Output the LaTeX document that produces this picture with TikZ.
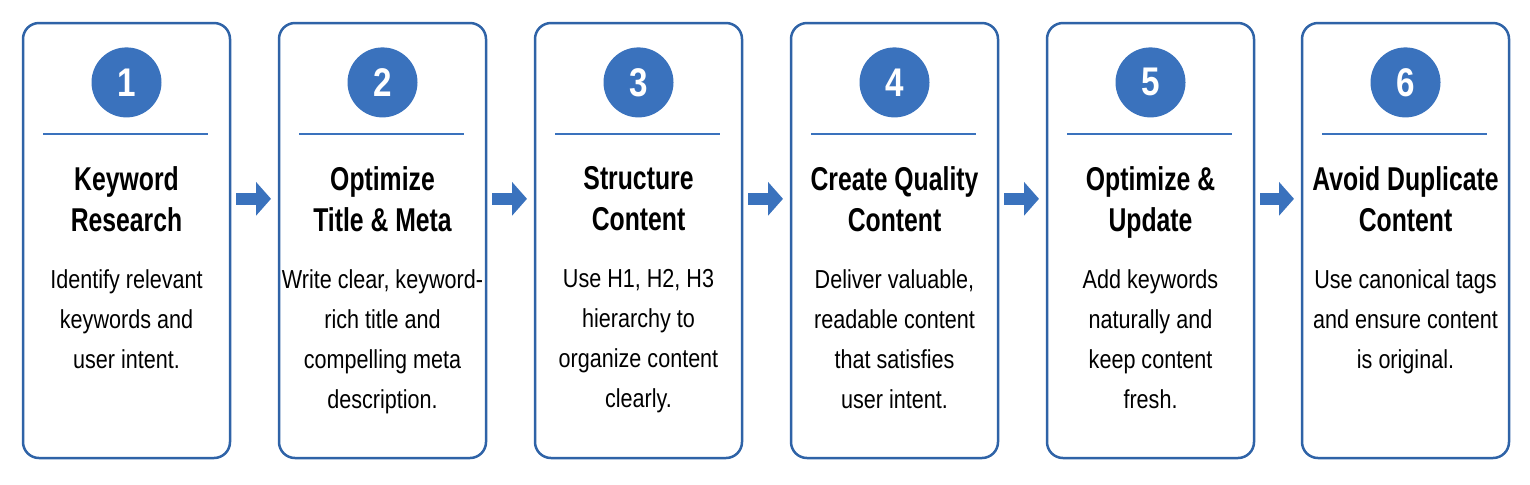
\documentclass[tikz,border=0pt]{standalone}
\usepackage{fontspec}
\setmainfont[FakeStretch=0.83]{Liberation Sans}
\newfontfamily\titlefont[FakeStretch=0.75]{Liberation Sans}
\usetikzlibrary{arrows.meta,positioning}
\definecolor{stepblue}{HTML}{3A72BD}
\definecolor{edgeblue}{HTML}{2F63A7}

\tikzset{
  stepbox/.style={draw=edgeblue,line width=1.25pt,rounded corners=8pt,fill=white,
    minimum width=103.5pt,minimum height=217.5pt,inner sep=0pt,outer sep=0pt},
  stepnum/.style={circle,fill=stepblue,minimum size=35pt,inner sep=0pt,text=white,
    font=\fontsize{20}{24}\selectfont\bfseries},
  steptitle/.style={align=center,inner sep=0pt,font=\titlefont\fontsize{16.5}{20.5}\selectfont\bfseries},
  steptext/.style={align=center,inner sep=0pt,font=\fontsize{13}{20}\selectfont},
  steprule/.style={draw=stepblue,line width=1pt},
  steparrow/.style={draw=stepblue,line width=6pt,-{Triangle[length=7.5pt,width=16.5pt]}},
}

\begin{document}
\begin{tikzpicture}[x=0.5pt,y=-0.5pt]
\path[use as bounding box] (0,0) rectangle (1530,484);

% step 1
\node[stepbox] (box1) at (126.5,240.5) {};
\node[stepnum,below=12pt of box1.north] (num1) {1};
\draw[steprule] ([shift={(10pt,-55.5pt)}]box1.north west) -- ([shift={(-11pt,-55.5pt)}]box1.north east);
\node[steptitle,below=24pt of num1] (title1) {Keyword\\Research};
\node[steptext,below=123pt of box1.north] (text1) {Identify relevant\\keywords and\\user intent.};

% step 2
\node[stepbox] (box2) at (382.5,240.5) {};
\node[stepnum,below=12pt of box2.north] (num2) {2};
\draw[steprule] ([shift={(10pt,-55.5pt)}]box2.north west) -- ([shift={(-11pt,-55.5pt)}]box2.north east);
\node[steptitle,below=24pt of num2] (title2) {Optimize\\Title \& Meta};
\node[steptext,below=123pt of box2.north] (text2) {Write clear, keyword-\\rich title and\\compelling meta\\description.};

% step 3
\node[stepbox] (box3) at (638.5,240.5) {};
\node[stepnum,below=12pt of box3.north] (num3) {3};
\draw[steprule] ([shift={(10pt,-55.5pt)}]box3.north west) -- ([shift={(-11pt,-55.5pt)}]box3.north east);
\node[steptitle,below=24pt of num3] (title3) {Structure\\Content};
\node[steptext,below=123pt of box3.north] (text3) {Use H1, H2, H3\\hierarchy to\\organize content\\clearly.};

% step 4
\node[stepbox] (box4) at (894.5,240.5) {};
\node[stepnum,below=12pt of box4.north] (num4) {4};
\draw[steprule] ([shift={(10pt,-55.5pt)}]box4.north west) -- ([shift={(-11pt,-55.5pt)}]box4.north east);
\node[steptitle,below=24pt of num4] (title4) {Create Quality\\Content};
\node[steptext,below=123pt of box4.north] (text4) {Deliver valuable,\\readable content\\that satisfies\\user intent.};

% step 5
\node[stepbox] (box5) at (1150.5,240.5) {};
\node[stepnum,below=12pt of box5.north] (num5) {5};
\draw[steprule] ([shift={(10pt,-55.5pt)}]box5.north west) -- ([shift={(-11pt,-55.5pt)}]box5.north east);
\node[steptitle,below=24pt of num5] (title5) {Optimize \&\\Update};
\node[steptext,below=123pt of box5.north] (text5) {Add keywords\\naturally and\\keep content\\fresh.};

% step 6
\node[stepbox] (box6) at (1405.5,240.5) {};
\node[stepnum,below=12pt of box6.north] (num6) {6};
\draw[steprule] ([shift={(10pt,-55.5pt)}]box6.north west) -- ([shift={(-11pt,-55.5pt)}]box6.north east);
\node[steptitle,below=24pt of num6] (title6) {Avoid Duplicate\\Content};
\node[steptext,below=123pt of box6.north] (text6) {Use canonical tags\\and ensure content\\is original.};

% arrows between the steps
\draw[steparrow] ([xshift=3pt]box1.east |- title1.center) -- ([xshift=-4pt]box2.west |- title1.center);
\draw[steparrow] ([xshift=3pt]box2.east |- title1.center) -- ([xshift=-4pt]box3.west |- title1.center);
\draw[steparrow] ([xshift=3pt]box3.east |- title1.center) -- ([xshift=-4pt]box4.west |- title1.center);
\draw[steparrow] ([xshift=3pt]box4.east |- title1.center) -- ([xshift=-4pt]box5.west |- title1.center);
\draw[steparrow] ([xshift=3pt]box5.east |- title1.center) -- ([xshift=-4pt]box6.west |- title1.center);
\end{tikzpicture}
\end{document}
